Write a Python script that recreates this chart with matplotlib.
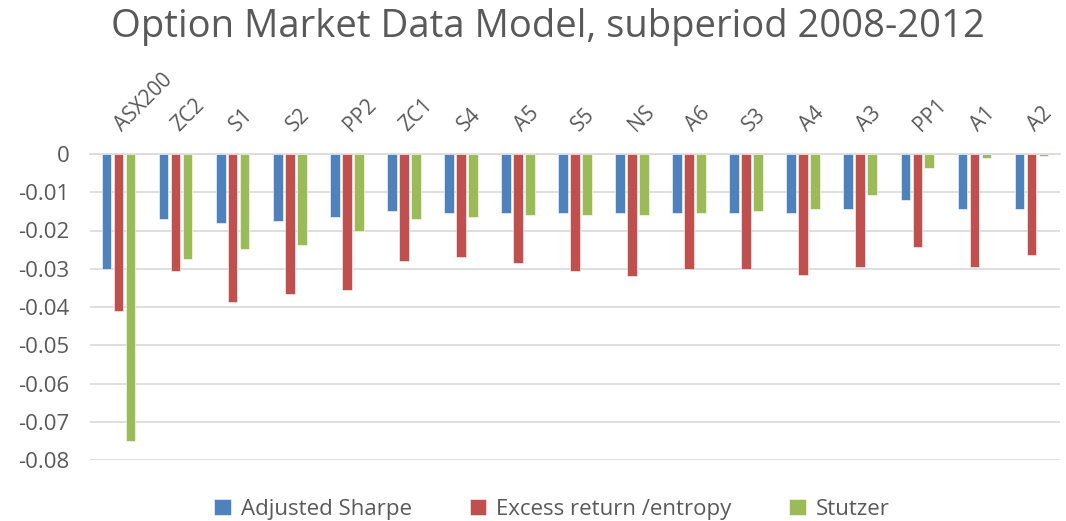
import matplotlib
matplotlib.use("Agg")
import matplotlib.pyplot as plt
import numpy as np

categories = ["ASX200", "ZC2", "S1", "S2", "PP2", "ZC1", "S4", "A5", "S5", "NS",
              "A6", "S3", "A4", "A3", "PP1", "A1", "A2"]
adjusted_sharpe = [-0.030, -0.017, -0.018, -0.0175, -0.0165, -0.015, -0.0155, -0.0155,
                   -0.0155, -0.0155, -0.0155, -0.0155, -0.0155, -0.0145, -0.012, -0.0145, -0.0145]
excess_entropy = [-0.041, -0.0305, -0.0387, -0.0366, -0.0356, -0.028, -0.027, -0.0284,
                  -0.0305, -0.032, -0.030, -0.030, -0.0316, -0.0296, -0.0244, -0.0296, -0.0264]
stutzer = [-0.075, -0.0274, -0.0248, -0.0237, -0.020, -0.017, -0.0165, -0.016,
           -0.016, -0.016, -0.0155, -0.015, -0.0145, -0.0108, -0.0037, -0.0011, -0.0006]
series_names = ["Adjusted Sharpe", "Excess return /entropy", "Stutzer"]
yticks = [0, -0.01, -0.02, -0.03, -0.04, -0.05, -0.06, -0.07, -0.08]
ytick_labels = ["0", "-0.01", "-0.02", "-0.03", "-0.04", "-0.05", "-0.06", "-0.07", "-0.08"]

colors = ["#4F81BD", "#C0504D", "#9BBB59"]
font = "Open Sans"
txt = "#595959"

fig = plt.figure(figsize=(10.66, 5.21), dpi=100)
ax = fig.add_axes([90 / 1066, 1 - 460 / 521, 970 / 1066, (460 - 154) / 521])

x = np.arange(len(categories))
w = 0.17
off = 0.21
for i, (vals, name) in enumerate(zip([adjusted_sharpe, excess_entropy, stutzer], series_names)):
    ax.bar(x + (i - 1) * off, vals, width=w, color=colors[i], label=name, zorder=3,
           edgecolor="white", linewidth=0.4)

ax.set_ylim(-0.08, 0)
ax.set_xlim(-0.5, len(categories) - 0.5)
ax.set_yticks(yticks)
ax.set_yticklabels(ytick_labels, fontsize=16, color=txt, family=font)
ax.grid(axis="y", color="#D9D9D9", linewidth=1.2, zorder=0)
for s in ["left", "right", "bottom"]:
    ax.spines[s].set_visible(False)
ax.spines["top"].set_color("#D9D9D9")
ax.spines["top"].set_linewidth(1.2)
ax.xaxis.tick_top()
ax.set_xticks(x)
ax.set_xticklabels(categories, rotation=45, ha="left", va="center", rotation_mode="anchor",
                   fontsize=15, color=txt, family=font)
ax.tick_params(axis="both", length=0)
ax.tick_params(axis="x", pad=19)
ax.tick_params(axis="y", pad=15)

fig.text(0.514, 0.948, "Option Market Data Model, subperiod 2008-2012", ha="center", va="center",
         fontsize=27.5, color=txt, family=font)

fig.legend(loc="center", bbox_to_anchor=(0.518, 0.022), ncol=3, frameon=False,
           prop={"family": font, "size": 16}, labelcolor=txt, handlelength=0.75, handleheight=0.75,
           columnspacing=2.6, handletextpad=0.45)

fig.savefig("out.png", dpi=100)
